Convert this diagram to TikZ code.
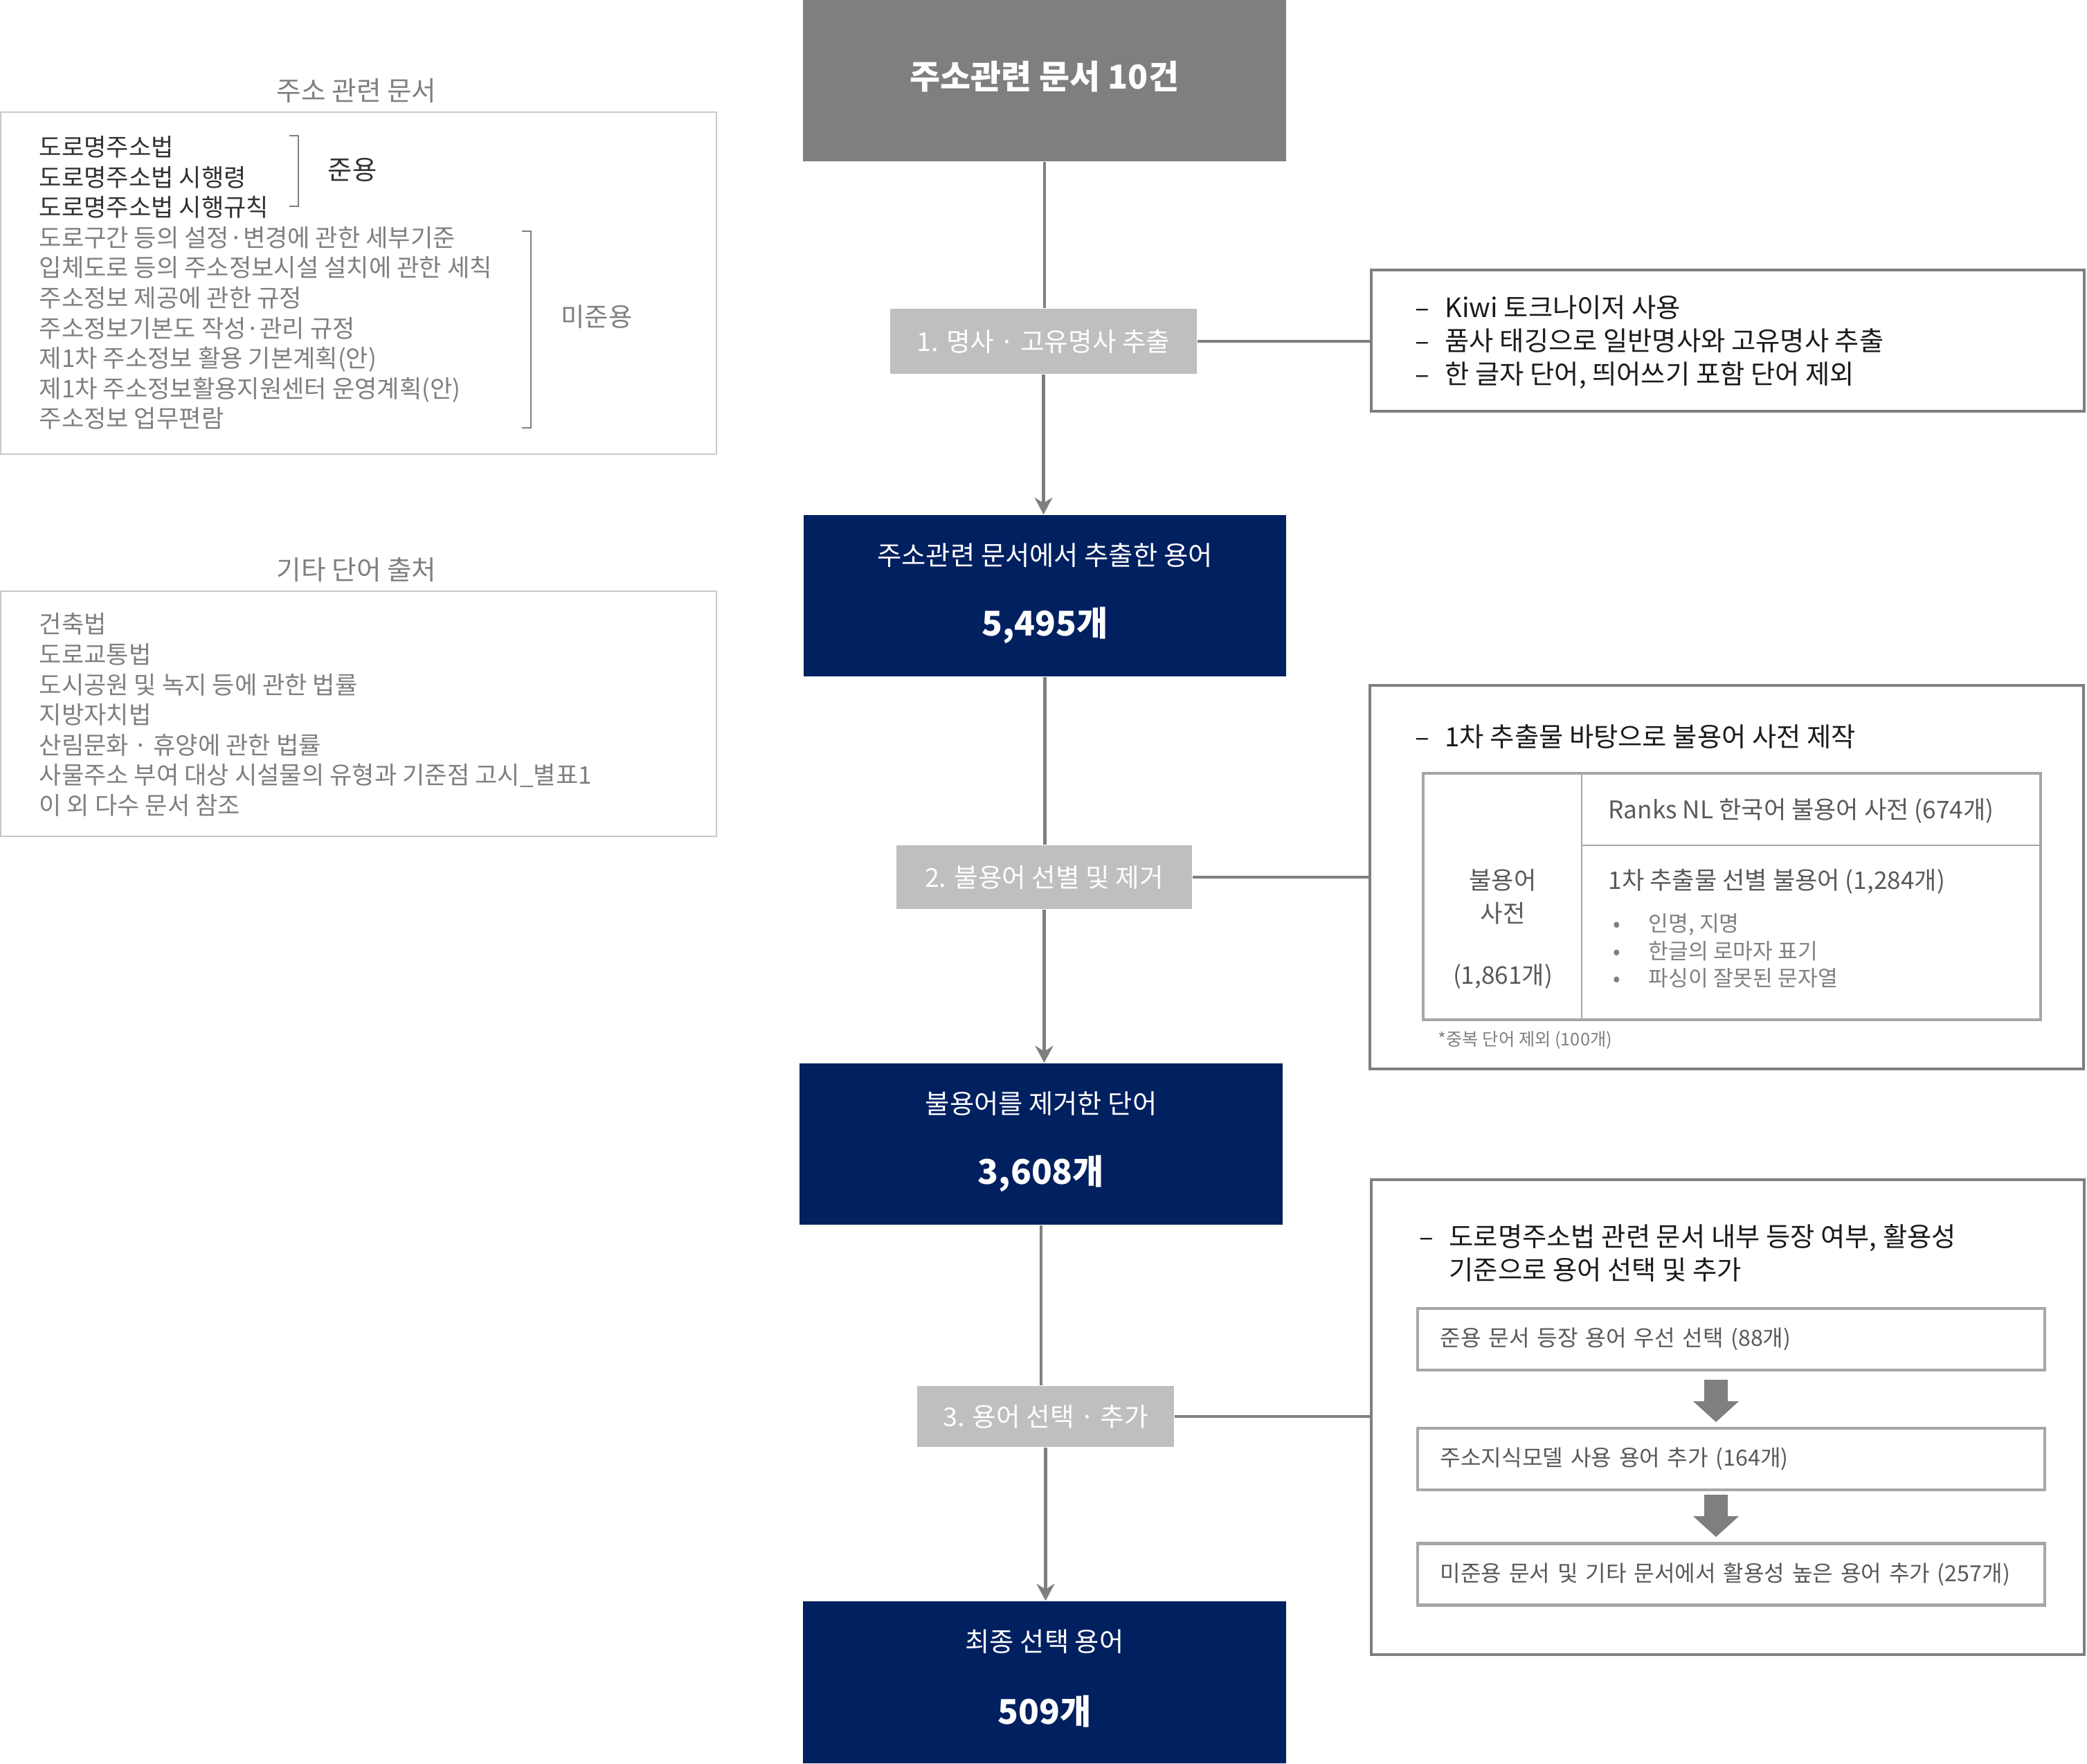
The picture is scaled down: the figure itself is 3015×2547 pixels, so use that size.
\documentclass[tikz,border=0pt]{standalone}
\usepackage{fontspec}
\setmainfont{Noto Sans CJK KR}
\usepackage{tikz}
\usetikzlibrary{positioning,arrows.meta}
\definecolor{namsaek}{HTML}{002060}
\definecolor{hoesaek}{HTML}{7F7F7F}
\definecolor{yeonhoe}{HTML}{BFBFBF}
\definecolor{teduri}{HTML}{A6A6A6}
\definecolor{yeonteduri}{HTML}{C9C9C9}
\definecolor{jinhoe}{HTML}{595959}
\definecolor{geulja}{HTML}{1A1A1A}

\begin{document}
\begin{tikzpicture}[x=0.01cm,y=-0.01cm,>=Stealth]
    \tikzset{
        titlebox/.style={
            fill=hoesaek,
            minimum width=6.98cm,
            minimum height=2.33cm,
            inner sep=0pt
        },
        titletxt/.style={
            text=white,
            inner sep=0pt,
            font=\bfseries\fontsize{13.6}{16}\selectfont
        },
        navybox/.style={
            fill=namsaek,
            minimum width=6.97cm,
            minimum height=2.33cm,
            inner sep=0pt
        },
        navylab/.style={
            text=white,
            inner sep=0pt,
            font=\fontsize{10.9}{13}\selectfont
        },
        navynum/.style={
            text=white,
            inner sep=0pt,
            font=\bfseries\fontsize{14}{16}\selectfont
        },
        stepbox/.style={
            fill=yeonhoe,
            text=white,
            inner sep=0pt,
            font=\fontsize{10.7}{12}\selectfont
        },
        notebox/.style={
            draw=hoesaek,
            line width=1.2pt,
            minimum width=10.3cm,
            inner sep=0pt
        },
        srcbox/.style={
            draw=yeonteduri,
            line width=0.6pt,
            minimum width=10.34cm,
            inner sep=0pt
        },
        selbox/.style={
            draw=teduri,
            line width=1.2pt,
            minimum width=9.06cm,
            minimum height=0.89cm,
            inner xsep=0.33cm,
            text width=8.4cm,
            align=left,
            text=jinhoe,
            font=\fontsize{9.15}{11}\selectfont
        },
        link/.style={
            draw=hoesaek,
            line width=1.3pt
        },
        pil/.style={
            -{Stealth[length=7pt,width=7.4pt]},
            draw=hoesaek,
            line width=1.3pt
        },
        blokkpil/.style={
            fill=hoesaek
        },
        klammer/.style={
            draw=hoesaek,
            line width=0.5pt
        },
        lab/.style={
            inner sep=0pt,
            font=\fontsize{10}{12.4}\selectfont
        },
        notetxt/.style={
            inner sep=0pt,
            align=left,
            text=geulja,
            font=\fontsize{10.9}{13.7}\selectfont
        }
    }
    \def\dash{\makebox[12.2pt][l]{–}}
    \useasboundingbox (0,0) rectangle (3015,2547);

    % 가운데 흐름
    \node[titlebox] (docs) at (1509,116.5) {};
    \node[titletxt] (docs-t) at ([yshift=1.7pt]docs.center) {주소관련 문서 10건};
    \node[stepbox, minimum width=4.43cm, minimum height=0.94cm] (step1) at (1507.5,493) {1. 명사 · 고유명사 추출};
    \node[navybox] (terms1) at (1509.5,860.5) {};
    \node[stepbox, minimum width=4.27cm, minimum height=0.92cm] (step2) at (1508.5,1267) {2. 불용어 선별 및 제거};
    \node[navybox] (terms2) at (1504,1652.5) {};
    \node[stepbox, minimum width=3.71cm, minimum height=0.88cm] (step3) at (1510.5,2046) {3. 용어 선택 · 추가};
    \node[navybox, minimum height=2.34cm] (terms3) at (1509,2430) {};

    \node[navylab] (terms1-t) at ([yshift=16.5pt]terms1.center) {주소관련 문서에서 추출한 용어};
    \node[navynum] (terms1-n) at ([yshift=-12.2pt]terms1.center) {5,495개};
    \node[navylab] (terms2-t) at ([yshift=16.5pt]terms2.center) {불용어를 제거한 단어};
    \node[navynum] (terms2-n) at ([yshift=-12.2pt]terms2.center) {3,608개};
    \node[navylab] (terms3-t) at ([yshift=16.8pt]terms3.center) {최종 선택 용어};
    \node[navynum] (terms3-n) at ([yshift=-12pt]terms3.center) {509개};

    \draw[link] (docs.south) -- (docs.south |- step1.north);
    \draw[pil] (step1.south) -- (step1.south |- terms1.north);
    \draw[link] (terms1.south) -- (terms1.south |- step2.north);
    \draw[pil] (step2.south) -- (step2.south |- terms2.north);
    \draw[link] (terms2.south) -- (terms2.south |- step3.north);
    \draw[pil] (step3.south) -- (step3.south |- terms3.north);

    % 왼쪽 출처 상자
    \node[lab, text=hoesaek, font=\fontsize{11}{13}\selectfont] (srctitle1) at (515,131) {주소 관련 문서};
    \node[srcbox, minimum height=4.94cm] (src1) at (518,409) {};
    \node[lab, anchor=west, align=left, text=hoesaek] (src1-txt) at (56,408.5)
        {{\color{geulja!90}도로명주소법}\\
         {\color{geulja!90}도로명주소법 시행령}\\
         {\color{geulja!90}도로명주소법 시행규칙}\\
         도로구간 등의 설정·변경에 관한 세부기준\\
         입체도로 등의 주소정보시설 설치에 관한 세칙\\
         주소정보 제공에 관한 규정\\
         주소정보기본도 작성·관리 규정\\
         제1차 주소정보 활용 기본계획(안)\\
         제1차 주소정보활용지원센터 운영계획(안)\\
         주소정보 업무편람};
    \draw[klammer] (418,196) -- (431,196) -- (431,298) -- (418,298);
    \node[lab, text=geulja!90, font=\fontsize{10.9}{13}\selectfont] (jun) at (509,245) {준용};
    \draw[klammer] (754,334) -- (767,334) -- (767,618) -- (754,618);
    \node[lab, text=hoesaek, font=\fontsize{10.6}{13}\selectfont] (mijun) at (862,458) {미준용};

    \node[lab, text=hoesaek, font=\fontsize{11}{13}\selectfont] (srctitle2) at (515,823) {기타 단어 출처};
    \node[srcbox, minimum height=3.54cm] (src2) at (518,1031) {};
    \node[lab, anchor=west, align=left, text=hoesaek] (src2-txt) at (56,1032.5)
        {건축법\\
         도로교통법\\
         도시공원 및 녹지 등에 관한 법률\\
         지방자치법\\
         산림문화 · 휴양에 관한 법률\\
         사물주소 부여 대상 시설물의 유형과 기준점 고시\_별표1\\
         이 외 다수 문서 참조};

    % 오른쪽 설명 상자
    \node[notebox, minimum height=2.04cm] (noteA) at (2496,492) {};
    \node[notetxt, anchor=west] (noteA-txt) at (2044,494)
        {\dash Kiwi 토크나이저 사용\\
         \dash 품사 태깅으로 일반명사와 고유명사 추출\\
         \dash 한 글자 단어, 띄어쓰기 포함 단어 제외};

    \node[notebox, minimum height=5.54cm, minimum width=10.31cm] (noteB) at (2494.5,1267) {};
    \node[notetxt, anchor=west] (noteB-txt) at (2044,1064) {\dash 1차 추출물 바탕으로 불용어 사전 제작};
    \draw[draw=teduri, line width=1.2pt] (2056,1117) rectangle (2948,1473);
    \draw[draw=teduri, line width=0.6pt] (2285,1117) -- (2285,1473);
    \draw[draw=teduri, line width=0.6pt] (2285,1221) -- (2948,1221);
    \node[lab, align=center, text=jinhoe, font=\fontsize{10}{13.7}\selectfont] (dict) at (2171,1295) {불용어\\사전};
    \node[lab, text=jinhoe] (dict-n) at (2171,1410) {(1,861개)};
    \node[lab, anchor=west, text=jinhoe] (ranks) at (2323,1171) {Ranks NL 한국어 불용어 사전 (674개)};
    \node[lab, anchor=west, text=jinhoe] (own) at (2323,1273) {1차 추출물 선별 불용어 (1,284개)};
    \node[lab, anchor=west, align=left, text=hoesaek, font=\fontsize{8.9}{11.2}\selectfont] (own-list) at (2330,1373.5)
        {\makebox[14.5pt][l]{•}인명, 지명\\
         \makebox[14.5pt][l]{•}한글의 로마자 표기\\
         \makebox[14.5pt][l]{•}파싱이 잘못된 문자열};
    \node[lab, anchor=west, text=hoesaek, font=\fontsize{7.2}{8}\selectfont] (dup) at (2077,1502) {*중복 단어 제외 (100개)};

    \node[notebox, minimum height=6.86cm] (noteC) at (2496,2047) {};
    \node[notetxt, anchor=west] (noteC-txt) at (2050,1810)
        {\dash 도로명주소법 관련 문서 내부 등장 여부, 활용성\\
         \makebox[12.2pt][l]{}기준으로 용어 선택 및 추가};
    \node[selbox] (sel1) at (2501,1934.5) {준용 문서 등장 용어 우선 선택 (88개)};
    \node[selbox] (sel2) at (2501,2107.5) {주소지식모델 사용 용어 추가 (164개)};
    \node[selbox] (sel3) at (2501,2274) {미준용 문서 및 기타 문서에서 활용성 높은 용어 추가 (257개)};
    \foreach \y in {1993,2159}
        \fill[blokkpil] (2462,\y) -- ++(34,0) -- ++(0,31) -- ++(16,0) -- ++(-33,30) -- ++(-33,-30) -- ++(16,0) -- cycle;

    % 단계와 설명 연결
    \draw[link] (step1.east) -- (step1.east -| noteA.west);
    \draw[link] (step2.east) -- (step2.east -| noteB.west);
    \draw[link] (step3.east) -- (step3.east -| noteC.west);
\end{tikzpicture}
\end{document}
